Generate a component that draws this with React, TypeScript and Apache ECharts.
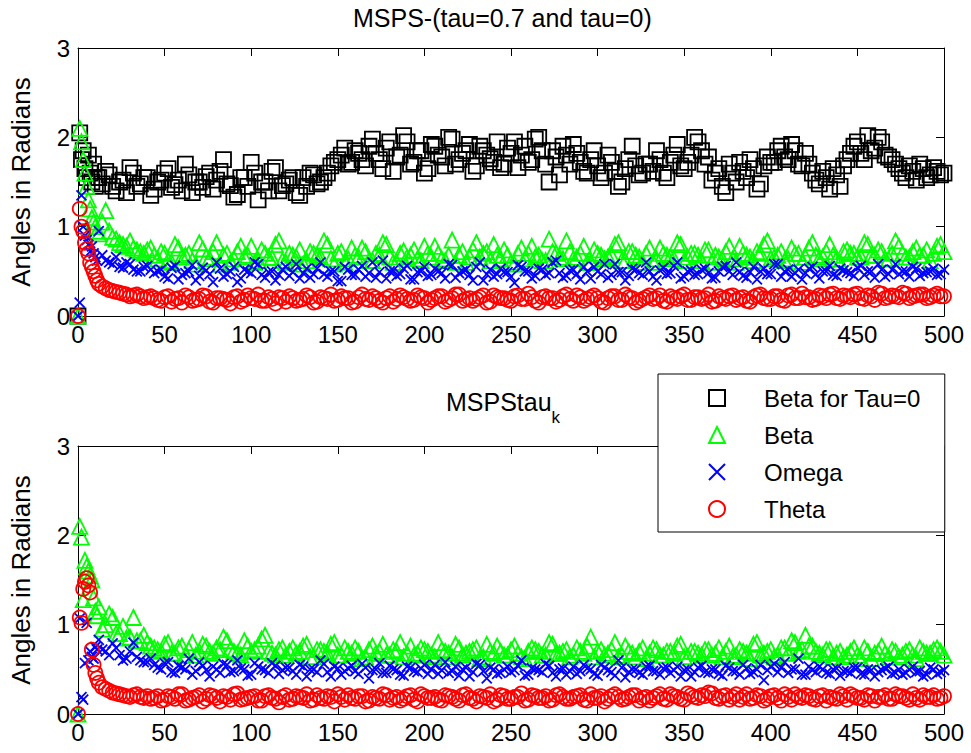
import React, { useEffect, useRef } from "react";
import * as echarts from "echarts";

const FONT = "'Liberation Sans', Arial, Helvetica, sans-serif";

const TITLE_TOP = "MSPS-(tau=0.7 and tau=0)";
const TITLE_BOTTOM_MAIN = "MSPStau";
const TITLE_BOTTOM_SUB = "k";
const Y_NAME = "Angles in Radians";
const LEGEND_NAMES = ["Beta for Tau=0", "Beta", "Omega", "Theta"];

const X_TICKS = [0, 50, 100, 150, 200, 250, 300, 350, 400, 450, 500];
const Y_TICKS = [0, 1, 2, 3];

// sample indices: early transient individually, then two interleaved sets every 4th sample
const X_EARLY = [0, 1, 2, 3, 4, 5, 6, 7, 8, 9, 10, 11];
const X_MAIN = [
  12, 16, 20, 24, 28, 32, 36, 40, 44, 48, 52, 56, 60, 64, 68, 72, 76, 80, 84, 88,
  92, 96, 100, 104, 108, 112, 116, 120, 124, 128, 132, 136, 140, 144, 148, 152, 156, 160, 164, 168,
  172, 176, 180, 184, 188, 192, 196, 200, 204, 208, 212, 216, 220, 224, 228, 232, 236, 240, 244, 248,
  252, 256, 260, 264, 268, 272, 276, 280, 284, 288, 292, 296, 300, 304, 308, 312, 316, 320, 324, 328,
  332, 336, 340, 344, 348, 352, 356, 360, 364, 368, 372, 376, 380, 384, 388, 392, 396, 400, 404, 408,
  412, 416, 420, 424, 428, 432, 436, 440, 444, 448, 452, 456, 460, 464, 468, 472, 476, 480, 484, 488,
  492, 496, 500,
];
const X_MID = [
  14, 18, 22, 26, 30, 34, 38, 42, 46, 50, 54, 58, 62, 66, 70, 74, 78, 82, 86, 90,
  94, 98, 102, 106, 110, 114, 118, 122, 126, 130, 134, 138, 142, 146, 150, 154, 158, 162, 166, 170,
  174, 178, 182, 186, 190, 194, 198, 202, 206, 210, 214, 218, 222, 226, 230, 234, 238, 242, 246, 250,
  254, 258, 262, 266, 270, 274, 278, 282, 286, 290, 294, 298, 302, 306, 310, 314, 318, 322, 326, 330,
  334, 338, 342, 346, 350, 354, 358, 362, 366, 370, 374, 378, 382, 386, 390, 394, 398, 402, 406, 410,
  414, 418, 422, 426, 430, 434, 438, 442, 446, 450, 454, 458, 462, 466, 470, 474, 478, 482, 486, 490,
  494, 498,
];

// ---------- top panel (X_EARLY + X_MAIN) ----------
const TOP_BETA_TAU0 = [
  0, 2.05, 1.75, 1.85, 1.65, 1.55, 1.8, 1.6, 1.5, 1.7, 1.45, 1.55,
  1.55, 1.62, 1.45, 1.5, 1.38, 1.6, 1.48, 1.55, 1.42, 1.52, 1.65, 1.47, 1.4, 1.58, 1.5, 1.44, 1.6, 1.52, 1.75, 1.46,
  1.36, 1.55, 1.72, 1.3, 1.5, 1.62, 1.4, 1.48, 1.55, 1.35, 1.45, 1.58, 1.5,
  1.6, 1.72, 1.8, 1.7, 1.85,
  1.75, 1.9, 1.82, 1.65, 1.95, 1.78, 2.02, 1.7, 1.85, 1.6, 1.92, 1.8, 1.68, 1.98, 1.75, 1.85, 1.62, 1.9, 1.8, 1.72, 1.66, 1.88,
  1.95, 1.8, 1.72, 1.98, 1.85, 1.5, 1.78, 1.9, 1.7, 1.82, 1.62, 1.75, 1.68,
  1.6, 1.72, 1.45, 1.65, 1.9, 1.58, 1.7,
  1.62, 1.75, 1.55, 1.8, 1.68, 1.72, 2.0, 1.85,
  1.78, 1.6, 1.45, 1.7, 1.5, 1.62, 1.75, 1.42, 1.68, 1.72,
  1.85, 1.78, 1.92, 1.7, 1.82,
  1.6, 1.48, 1.55, 1.65, 1.45,
  1.75, 1.9, 1.82, 2.02, 1.88, 1.95, 1.78,
  1.7, 1.6, 1.68, 1.52, 1.65, 1.58, 1.62, 1.6,
];
const TOP_BETA = [
  0, 2.1, 1.95, 1.75, 1.6, 1.45, 1.3, 1.2, 1.1, 1.05, 1.0, 0.95,
  0.92, 1.18, 0.88, 0.82, 0.78, 0.76, 0.72, 0.74,
  0.68, 0.72, 0.62, 0.8, 0.66, 0.7, 0.58, 0.75, 0.64, 0.82, 0.68, 0.6, 0.72, 0.66, 0.78, 0.62, 0.7, 0.65, 0.84, 0.6,
  0.68, 0.74, 0.62, 0.7, 0.66, 0.8, 0.58, 0.72, 0.64, 0.68, 0.76, 0.62, 0.7, 0.82, 0.66, 0.6, 0.73, 0.68, 0.64, 0.78,
  0.66, 0.7, 0.62, 0.85, 0.68, 0.6, 0.74, 0.66, 0.72, 0.8, 0.64, 0.68, 0.58, 0.76, 0.7, 0.66, 0.62, 0.86, 0.7, 0.64,
  0.72, 0.66, 0.78, 0.6, 0.7, 0.64, 0.68, 0.82, 0.62, 0.72, 0.66, 0.7, 0.6, 0.76, 0.68, 0.64, 0.8, 0.66, 0.7, 0.62,
  0.74, 0.68, 0.64, 0.78, 0.6, 0.7, 0.66, 0.72, 0.8, 0.64, 0.68, 0.62, 0.76, 0.7, 0.66, 0.82, 0.64, 0.72, 0.68, 0.6,
  0.74, 0.7, 0.66, 0.8, 0.68, 0.72, 0.64, 0.84, 0.7, 0.66, 0.76, 0.68, 0.62, 0.78, 0.72,
];
const TOP_OMEGA = [
  0, 0.15, 1.35, 1.0, 0.9, 0.85, 0.8, 0.72, 0.78, 0.7, 0.66, 0.62,
  0.95, 0.62, 0.58, 0.55, 0.6, 0.52, 0.5, 0.56,
  0.48, 0.52, 0.42, 0.56, 0.46, 0.5, 0.4, 0.54, 0.47, 0.6, 0.44, 0.5, 0.38, 0.52, 0.48, 0.58, 0.43, 0.5, 0.46, 0.55,
  0.49, 0.42, 0.53, 0.47, 0.6, 0.44, 0.5, 0.39, 0.52, 0.46, 0.56, 0.48, 0.43, 0.62, 0.5, 0.45, 0.53, 0.41, 0.49, 0.55,
  0.46, 0.5, 0.42, 0.57, 0.48, 0.52, 0.4, 0.6, 0.47, 0.44, 0.53, 0.49, 0.37, 0.55, 0.5, 0.45, 0.52, 0.48, 0.62, 0.43,
  0.51, 0.47, 0.55, 0.42, 0.5, 0.58, 0.46, 0.49, 0.4, 0.53, 0.48, 0.6, 0.44, 0.51, 0.47, 0.56, 0.42, 0.5, 0.46, 0.52,
  0.48, 0.43, 0.55, 0.5, 0.6, 0.45, 0.49, 0.41, 0.53, 0.47, 0.58, 0.5, 0.44, 0.52, 0.48, 0.55, 0.42, 0.5, 0.46, 0.53,
  0.49, 0.45, 0.56, 0.5, 0.43, 0.52, 0.47, 0.58, 0.5, 0.44, 0.53, 0.48, 0.5, 0.46, 0.52,
];
const TOP_THETA = [
  0, 1.2, 1.0, 0.95, 0.82, 0.75, 0.7, 0.6, 0.55, 0.5, 0.45, 0.4,
  0.36, 0.31, 0.28, 0.26, 0.24, 0.23, 0.22, 0.21,
  0.2, 0.17, 0.22, 0.19, 0.15, 0.21, 0.18, 0.23, 0.16, 0.2, 0.19, 0.14, 0.22, 0.18, 0.2, 0.24, 0.17, 0.19, 0.21, 0.16,
  0.2, 0.18, 0.23, 0.15, 0.21, 0.19, 0.17, 0.22, 0.2, 0.16, 0.24, 0.18, 0.2, 0.15, 0.22, 0.19, 0.21, 0.17, 0.23, 0.2,
  0.18, 0.22, 0.16, 0.2, 0.24, 0.19, 0.17, 0.21, 0.15, 0.23, 0.2, 0.18, 0.22, 0.19, 0.25, 0.17, 0.21, 0.2, 0.16, 0.22,
  0.19, 0.23, 0.17, 0.21, 0.2, 0.15, 0.22, 0.18, 0.24, 0.2, 0.17, 0.21, 0.19, 0.23, 0.16, 0.2, 0.22, 0.18, 0.21, 0.19,
  0.24, 0.17, 0.2, 0.22, 0.18, 0.21, 0.16, 0.23, 0.2, 0.19, 0.22, 0.17, 0.24, 0.2, 0.21, 0.18, 0.23, 0.2, 0.25, 0.19,
  0.22, 0.24, 0.2, 0.23, 0.18, 0.25, 0.21, 0.22, 0.26, 0.2, 0.23, 0.24, 0.21, 0.25, 0.22,
];

// ---------- top panel (X_MID) ----------
const TOP_BETA_TAU0_MID = [
  1.48, 1.58, 1.4, 1.52, 1.66, 1.45, 1.55, 1.35, 1.5, 1.6, 1.44, 1.52, 1.7, 1.38, 1.5, 1.56, 1.42, 1.62, 1.48, 1.33,
  1.55, 1.45, 1.6, 1.5, 1.4, 1.66, 1.46, 1.52, 1.38, 1.55, 1.6, 1.48,
  1.55, 1.68, 1.75, 1.88, 1.72,
  1.82, 1.68, 1.98, 1.75, 1.88, 1.62, 1.8, 1.95, 1.72, 1.85, 1.65, 1.9, 1.78, 2.0, 1.7, 1.82, 1.92, 1.68, 1.85, 1.76, 1.95, 1.7,
  1.82, 1.66, 1.9, 1.75, 2.0, 1.7, 1.85, 1.58, 1.8, 1.92, 1.72, 1.6, 1.85,
  1.55, 1.8, 1.62, 1.5, 1.75, 1.68, 1.6,
  1.7, 1.85, 1.6, 1.72, 1.92, 1.65, 1.8, 1.95,
  1.7, 1.52, 1.65, 1.38, 1.6, 1.72, 1.55, 1.65, 1.48, 1.78,
  1.72, 1.9, 1.75, 1.85, 1.68,
  1.7, 1.52, 1.62, 1.42, 1.58,
  1.68, 1.82, 1.95, 1.75, 1.85, 2.0, 1.8,
  1.75, 1.65, 1.55, 1.62, 1.7, 1.55, 1.66, 1.58,
];
const TOP_BETA_MID = [
  1.05, 0.95, 0.86, 0.8, 0.84, 0.74, 0.7, 0.76,
  0.64, 0.7, 0.6, 0.76, 0.68, 0.62, 0.82, 0.66, 0.72, 0.58, 0.7, 0.64, 0.78, 0.68, 0.6, 0.74, 0.66, 0.8, 0.62, 0.7,
  0.66, 0.58, 0.72, 0.68, 0.84, 0.64, 0.7, 0.6, 0.76, 0.66, 0.72, 0.62, 0.68, 0.8, 0.6, 0.7, 0.66, 0.74, 0.62, 0.7,
  0.78, 0.64, 0.68, 0.6, 0.72, 0.66, 0.82, 0.7, 0.62, 0.68, 0.74, 0.6, 0.7, 0.64, 0.78, 0.68, 0.62, 0.72, 0.66, 0.84,
  0.64, 0.7, 0.6, 0.74, 0.68, 0.66, 0.8, 0.62, 0.72, 0.68, 0.6, 0.76, 0.64, 0.7, 0.66, 0.82, 0.62, 0.7, 0.68, 0.74,
  0.6, 0.66, 0.72, 0.64, 0.78, 0.68, 0.62, 0.7, 0.84, 0.66, 0.72, 0.64, 0.7, 0.6, 0.76, 0.68, 0.66, 0.8, 0.64, 0.72,
  0.7, 0.66, 0.82, 0.68, 0.74, 0.64, 0.7, 0.78, 0.66, 0.72, 0.68, 0.74, 0.7, 0.8,
];
const TOP_OMEGA_MID = [
  0.68, 0.6, 0.66, 0.54, 0.58, 0.5, 0.55, 0.52,
  0.5, 0.44, 0.54, 0.41, 0.48, 0.57, 0.45, 0.51, 0.38, 0.53, 0.47, 0.55, 0.42, 0.5, 0.6, 0.46, 0.49, 0.4, 0.52, 0.45,
  0.58, 0.48, 0.43, 0.53, 0.47, 0.5, 0.39, 0.55, 0.46, 0.52, 0.44, 0.6, 0.49, 0.42, 0.51, 0.47, 0.56, 0.41, 0.5, 0.45,
  0.53, 0.48, 0.58, 0.43, 0.5, 0.46, 0.55, 0.4, 0.52, 0.47, 0.49, 0.44, 0.57, 0.5, 0.42, 0.53, 0.46, 0.6, 0.48, 0.45,
  0.52, 0.41, 0.5, 0.55, 0.47, 0.43, 0.58, 0.49, 0.45, 0.52, 0.46, 0.5, 0.4, 0.54, 0.48, 0.6, 0.44, 0.51, 0.47, 0.53,
  0.42, 0.5, 0.56, 0.46, 0.49, 0.43, 0.55, 0.5, 0.47, 0.58, 0.44, 0.52, 0.48, 0.41, 0.53, 0.47, 0.5, 0.56, 0.45, 0.51,
  0.48, 0.54, 0.46, 0.5, 0.58, 0.44, 0.52, 0.47, 0.5, 0.55, 0.45, 0.49, 0.53, 0.47,
];
const TOP_THETA_MID = [
  0.33, 0.29, 0.27, 0.25, 0.22, 0.24, 0.2, 0.22,
  0.18, 0.21, 0.16, 0.2, 0.23, 0.17, 0.19, 0.22, 0.15, 0.2, 0.18, 0.21, 0.16, 0.23, 0.19, 0.17, 0.21, 0.14, 0.2, 0.22,
  0.17, 0.19, 0.21, 0.16, 0.2, 0.24, 0.18, 0.2, 0.15, 0.21, 0.19, 0.22, 0.17, 0.2, 0.16, 0.23, 0.19, 0.18, 0.21, 0.15,
  0.2, 0.22, 0.18, 0.24, 0.17, 0.2, 0.19, 0.23, 0.16, 0.21, 0.2, 0.17, 0.23, 0.19, 0.21, 0.15, 0.22, 0.2, 0.18, 0.24,
  0.17, 0.21, 0.19, 0.23, 0.16, 0.2, 0.22, 0.18, 0.21, 0.15, 0.19, 0.23, 0.2, 0.17, 0.22, 0.19, 0.24, 0.18, 0.21, 0.2,
  0.16, 0.22, 0.19, 0.23, 0.2, 0.17, 0.21, 0.24, 0.19, 0.22, 0.18, 0.23, 0.2, 0.25, 0.21, 0.19, 0.22, 0.24, 0.2, 0.23,
  0.21, 0.25, 0.19, 0.22, 0.26, 0.2, 0.23, 0.21, 0.25, 0.22, 0.24, 0.2, 0.23, 0.22,
];

// ---------- bottom panel (X_EARLY + X_MAIN) ----------
const BOT_BETA = [
  0, 2.1, 1.98, 1.28, 1.72, 1.65, 1.6, 1.55, 1.5, 1.3, 1.15, 1.1,
  1.2, 1.0, 1.08, 0.9, 0.85, 1.08, 0.82, 0.8,
  0.74, 0.7, 0.8, 0.68, 0.76, 0.72, 0.66, 0.78, 0.7, 0.74, 0.86, 0.72, 0.68, 0.82, 0.7, 0.76, 0.88, 0.68, 0.72, 0.66,
  0.74, 0.7, 0.78, 0.64, 0.72, 0.68, 0.8, 0.66, 0.7, 0.74, 0.62, 0.72, 0.68, 0.78, 0.66, 0.7, 0.64, 0.76, 0.68, 0.72,
  0.66, 0.8, 0.7, 0.64, 0.74, 0.68, 0.72, 0.62, 0.78, 0.68, 0.7, 0.66, 0.76, 0.64, 0.7, 0.72, 0.66, 0.8, 0.68, 0.7,
  0.64, 0.74, 0.68, 0.86, 0.7, 0.66, 0.72, 0.64, 0.76, 0.68, 0.7, 0.62, 0.74, 0.66, 0.7, 0.68, 0.78, 0.64, 0.7, 0.66,
  0.72, 0.68, 0.64, 0.76, 0.66, 0.7, 0.62, 0.8, 0.68, 0.72, 0.66, 0.74, 0.82, 0.7, 0.88, 0.76, 0.68, 0.72, 0.64, 0.7,
  0.66, 0.74, 0.62, 0.7, 0.68, 0.76, 0.64, 0.7, 0.66, 0.72, 0.62, 0.7, 0.68, 0.74, 0.66,
];
const BOT_OMEGA = [
  0, 1.07, 0.19, 0.16, 0.57, 1.02, 0.6, 0.7, 0.64, 0.62, 0.75, 0.72,
  0.83, 0.7, 0.79, 0.66, 0.62, 0.8, 0.6, 0.58,
  0.55, 0.5, 0.58, 0.46, 0.52, 0.62, 0.48, 0.54, 0.42, 0.5, 0.56, 0.47, 0.6, 0.5, 0.44, 0.53, 0.49, 0.57, 0.45, 0.52,
  0.48, 0.55, 0.42, 0.5, 0.6, 0.47, 0.53, 0.44, 0.51, 0.48, 0.56, 0.4, 0.5, 0.46, 0.54, 0.49, 0.43, 0.52, 0.47, 0.55,
  0.5, 0.45, 0.58, 0.48, 0.43, 0.52, 0.47, 0.55, 0.4, 0.5, 0.46, 0.53, 0.49, 0.6, 0.44, 0.5, 0.47, 0.54, 0.42, 0.51,
  0.48, 0.45, 0.55, 0.5, 0.43, 0.52, 0.47, 0.6, 0.41, 0.5, 0.46, 0.53, 0.48, 0.44, 0.52, 0.49, 0.42, 0.5, 0.47, 0.54,
  0.46, 0.5, 0.43, 0.52, 0.48, 0.55, 0.45, 0.5, 0.38, 0.53, 0.47, 0.58, 0.5, 0.62, 0.44, 0.49, 0.53, 0.46, 0.5, 0.43,
  0.48, 0.52, 0.45, 0.5, 0.42, 0.49, 0.53, 0.46, 0.44, 0.5, 0.47, 0.42, 0.52, 0.45, 0.49,
];
const BOT_THETA = [
  0, 1.08, 1.02, 1.4, 1.48, 1.52, 1.44, 1.36, 0.72, 0.55, 0.46, 0.4,
  0.35, 0.28, 0.24, 0.22, 0.2, 0.21, 0.19, 0.2,
  0.18, 0.15, 0.2, 0.17, 0.22, 0.16, 0.19, 0.14, 0.21, 0.18, 0.2, 0.16, 0.23, 0.17, 0.19, 0.15, 0.2, 0.18, 0.13, 0.21,
  0.17, 0.19, 0.22, 0.16, 0.18, 0.2, 0.14, 0.19, 0.21, 0.17, 0.2, 0.15, 0.18, 0.22, 0.16, 0.19, 0.17, 0.21, 0.14, 0.2,
  0.18, 0.16, 0.21, 0.19, 0.15, 0.22, 0.17, 0.2, 0.18, 0.14, 0.21, 0.17, 0.19, 0.23, 0.16, 0.2, 0.18, 0.15, 0.21, 0.19,
  0.17, 0.2, 0.16, 0.22, 0.18, 0.14, 0.2, 0.19, 0.17, 0.21, 0.15, 0.19, 0.18, 0.22, 0.16, 0.2, 0.17, 0.23, 0.19, 0.21,
  0.24, 0.18, 0.2, 0.16, 0.22, 0.19, 0.17, 0.21, 0.15, 0.2, 0.18, 0.22, 0.16, 0.19, 0.21, 0.17, 0.2, 0.15, 0.18, 0.22,
  0.16, 0.2, 0.18, 0.21, 0.15, 0.19, 0.17, 0.22, 0.2, 0.16, 0.18, 0.21, 0.19, 0.17, 0.2,
];

// ---------- bottom panel (X_MID) ----------
const BOT_BETA_MID = [
  0.95, 1.12, 0.9, 0.98, 0.86, 0.82, 0.88, 0.76,
  0.72, 0.78, 0.68, 0.74, 0.66, 0.8, 0.7, 0.76, 0.68, 0.72, 0.82, 0.7, 0.66, 0.76, 0.72, 0.84, 0.7, 0.66, 0.74, 0.7,
  0.68, 0.76, 0.64, 0.72, 0.7, 0.78, 0.66, 0.74, 0.68, 0.7, 0.64, 0.76, 0.7, 0.66, 0.72, 0.8, 0.68, 0.66, 0.74, 0.7,
  0.64, 0.72, 0.68, 0.78, 0.66, 0.7, 0.74, 0.64, 0.7, 0.76, 0.66, 0.72, 0.68, 0.62, 0.74, 0.7, 0.66, 0.78, 0.68, 0.72,
  0.66, 0.7, 0.76, 0.64, 0.72, 0.68, 0.8, 0.66, 0.7, 0.64, 0.74, 0.68, 0.72, 0.66, 0.7, 0.76, 0.64, 0.7, 0.68, 0.72,
  0.66, 0.74, 0.7, 0.64, 0.72, 0.68, 0.78, 0.66, 0.7, 0.64, 0.74, 0.68, 0.8, 0.72, 0.76, 0.7, 0.66, 0.72, 0.68, 0.64,
  0.7, 0.66, 0.74, 0.62, 0.7, 0.68, 0.72, 0.64, 0.7, 0.66, 0.74, 0.68, 0.72, 0.7,
];
const BOT_OMEGA_MID = [
  0.72, 0.66, 0.74, 0.6, 0.7, 0.64, 0.58, 0.62,
  0.52, 0.57, 0.47, 0.54, 0.5, 0.44, 0.58, 0.49, 0.53, 0.46, 0.55, 0.48, 0.51, 0.43, 0.57, 0.5, 0.46, 0.54, 0.49, 0.52,
  0.44, 0.53, 0.5, 0.47, 0.56, 0.42, 0.51, 0.48, 0.54, 0.45, 0.52, 0.49, 0.57, 0.46, 0.5, 0.44, 0.53, 0.48, 0.51, 0.45,
  0.55, 0.49, 0.46, 0.53, 0.5, 0.42, 0.56, 0.48, 0.52, 0.45, 0.5, 0.47, 0.54, 0.43, 0.51, 0.49, 0.56, 0.46, 0.5, 0.44,
  0.53, 0.48, 0.51, 0.45, 0.55, 0.49, 0.43, 0.52, 0.47, 0.5, 0.44, 0.54, 0.48, 0.51, 0.46, 0.53, 0.49, 0.42, 0.52, 0.47,
  0.5, 0.45, 0.54, 0.48, 0.44, 0.51, 0.47, 0.55, 0.49, 0.56, 0.52, 0.46, 0.5, 0.44, 0.53, 0.47, 0.5, 0.45, 0.51, 0.48,
  0.46, 0.52, 0.44, 0.49, 0.47, 0.51, 0.45, 0.5, 0.46, 0.53, 0.48, 0.44, 0.5, 0.47,
];
const BOT_THETA_MID = [
  0.3, 0.26, 0.23, 0.21, 0.19, 0.22, 0.18, 0.17,
  0.2, 0.16, 0.19, 0.22, 0.15, 0.18, 0.21, 0.17, 0.2, 0.14, 0.19, 0.22, 0.16, 0.18, 0.2, 0.15, 0.21, 0.17, 0.19, 0.16,
  0.2, 0.18, 0.15, 0.21, 0.17, 0.19, 0.22, 0.16, 0.18, 0.2, 0.14, 0.19, 0.17, 0.21, 0.18, 0.15, 0.2, 0.16, 0.22, 0.18,
  0.19, 0.15, 0.2, 0.17, 0.21, 0.18, 0.14, 0.19, 0.22, 0.16, 0.2, 0.17, 0.19, 0.15, 0.21, 0.18, 0.2, 0.16, 0.22, 0.17,
  0.19, 0.21, 0.15, 0.18, 0.2, 0.17, 0.22, 0.16, 0.19, 0.21, 0.18, 0.15, 0.2, 0.17, 0.22, 0.19, 0.16, 0.21, 0.18, 0.2,
  0.23, 0.17, 0.21, 0.19, 0.16, 0.22, 0.18, 0.2, 0.17, 0.21, 0.15, 0.19, 0.22, 0.18, 0.2, 0.16, 0.21, 0.19, 0.17, 0.2,
  0.22, 0.18, 0.16, 0.2, 0.19, 0.21, 0.17, 0.2, 0.18, 0.22, 0.16, 0.19, 0.21, 0.18,
];

const X_ALL = X_EARLY.concat(X_MAIN);
const pairs = (xs: number[], ys: number[]) =>
  ys.map((y, i) => [xs[i], y]).filter((p) => p[0] !== undefined);

const X_PATH = "path://M0 0L10 10M10 0L0 10";

const STYLES: Record<string, any> = {
  "Beta for Tau=0": { symbol: "rect", symbolSize: 15, color: "#000000" },
  Beta: { symbol: "triangle", symbolSize: 15, color: "#00ff00" },
  Omega: { symbol: X_PATH, symbolSize: 10, color: "#0000ff" },
  Theta: { symbol: "circle", symbolSize: 14, color: "#ff0000" },
};

function scatter(name: string, ys: number[], ysMid: number[], gi: number) {
  const s = STYLES[name];
  return {
    type: "scatter",
    name,
    xAxisIndex: gi * 2,
    yAxisIndex: gi * 2,
    symbol: s.symbol,
    symbolSize: s.symbolSize,
    data: pairs(X_ALL, ys).concat(pairs(X_MID, ysMid)),
    itemStyle: { color: "rgba(0,0,0,0)", borderColor: s.color, borderWidth: 1.8, opacity: 1 },
    emphasis: { disabled: true },
    silent: true,
  };
}

const txt = { color: "#000", fontFamily: FONT, fontSize: 24, fontWeight: "normal" };

function xAxes(gi: number) {
  return [
    {
      type: "value",
      gridIndex: gi,
      min: 0,
      max: 500,
      interval: 50,
      axisLine: { show: true, onZero: false, lineStyle: { color: "#000", width: 1 } },
      axisTick: { show: true, inside: true, length: 8, lineStyle: { color: "#000" } },
      axisLabel: { ...txt, margin: 6, formatter: (v: number) => (X_TICKS.includes(v) ? String(v) : "") },
      splitLine: { show: false },
    },
    {
      type: "value",
      gridIndex: gi,
      position: "top",
      min: 0,
      max: 500,
      interval: 50,
      axisLine: { show: true, onZero: false, lineStyle: { color: "#000", width: 1 } },
      axisTick: { show: true, inside: true, length: 8, lineStyle: { color: "#000" } },
      axisLabel: { show: false },
      splitLine: { show: false },
    },
  ];
}

function yAxes(gi: number) {
  return [
    {
      type: "value",
      gridIndex: gi,
      min: 0,
      max: 3,
      interval: 1,
      name: Y_NAME,
      nameLocation: "middle",
      nameGap: 44,
      nameTextStyle: { ...txt, fontSize: 26 },
      axisLine: { show: true, onZero: false, lineStyle: { color: "#000", width: 1 } },
      axisTick: { show: true, inside: true, length: 8, lineStyle: { color: "#000" } },
      axisLabel: { ...txt, margin: 8, formatter: (v: number) => (Y_TICKS.includes(v) ? String(v) : "") },
      splitLine: { show: false },
    },
    {
      type: "value",
      gridIndex: gi,
      position: "right",
      min: 0,
      max: 3,
      interval: 1,
      axisLine: { show: true, onZero: false, lineStyle: { color: "#000", width: 1 } },
      axisTick: { show: true, inside: true, length: 8, lineStyle: { color: "#000" } },
      axisLabel: { show: false },
      splitLine: { show: false },
    },
  ];
}

export default function App() {
  const ref = useRef<HTMLDivElement>(null);
  useEffect(() => {
    if (!ref.current) return;
    const chart = echarts.init(ref.current, null, { renderer: "svg" });
    const option: any = {
      animation: false,
      backgroundColor: "#ffffff",
      title: [
        {
          text: TITLE_TOP,
          left: 353,
          top: 5,
          padding: 0,
          textStyle: { ...txt, fontSize: 25 },
        },
        {
          text: `{m|${TITLE_BOTTOM_MAIN}}{k|${TITLE_BOTTOM_SUB}}`,
          left: 446,
          top: 389,
          padding: 0,
          textStyle: {
            fontWeight: "normal",
            rich: {
              m: { ...txt, fontSize: 25, lineHeight: 30, verticalAlign: "top" },
              k: { ...txt, fontSize: 17, lineHeight: 20, padding: [20, 0, 0, 0], verticalAlign: "top" },
            },
          },
        },
      ],
      grid: [
        { left: 76, top: 48, width: 868, height: 268 },
        { left: 76, top: 446, width: 868, height: 268 },
      ],
      xAxis: [...xAxes(0), ...xAxes(1)],
      yAxis: [...yAxes(0), ...yAxes(1)],
      legend: {
        data: LEGEND_NAMES,
        orient: "vertical",
        left: 658,
        top: 374,
        padding: [11, 24, 10, 50],
        itemWidth: 16,
        itemHeight: 16,
        itemGap: 11,
        backgroundColor: "#ffffff",
        borderColor: "#000",
        borderWidth: 1,
        selectedMode: false,
        z: 10,
        textStyle: { ...txt, fontSize: 24, lineHeight: 26, padding: [0, 0, 0, 34] },
      },
      series: [
        scatter("Beta for Tau=0", TOP_BETA_TAU0, TOP_BETA_TAU0_MID, 0),
        scatter("Beta", TOP_BETA, TOP_BETA_MID, 0),
        scatter("Omega", TOP_OMEGA, TOP_OMEGA_MID, 0),
        scatter("Theta", TOP_THETA, TOP_THETA_MID, 0),
        scatter("Beta", BOT_BETA, BOT_BETA_MID, 1),
        scatter("Omega", BOT_OMEGA, BOT_OMEGA_MID, 1),
        scatter("Theta", BOT_THETA, BOT_THETA_MID, 1),
      ],
    };
    chart.setOption(option);
    return () => chart.dispose();
  }, []);
  return (
    <div
      ref={ref}
      style={{ position: "fixed", left: 0, top: 0, width: 971, height: 753, background: "#fff" }}
    />
  );
}
